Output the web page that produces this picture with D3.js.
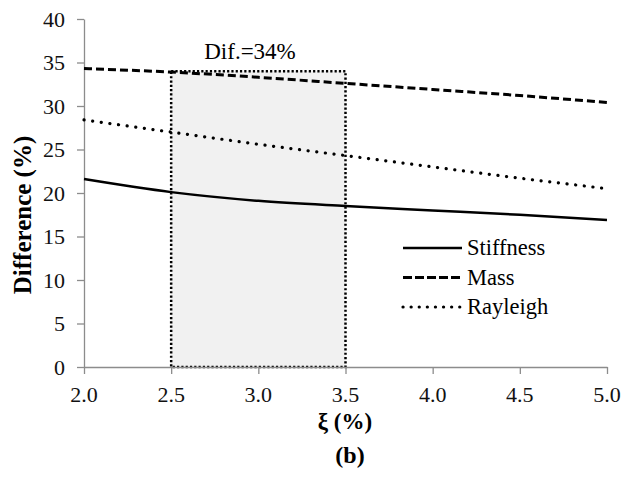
<!DOCTYPE html>
<html>
<head>
<meta charset="utf-8">
<script src="https://cdn.jsdelivr.net/npm/d3@7"></script>
<style>
body { margin: 0; background: #fff; }
</style>
</head>
<body>
<script>
// damping ratio (%)
var xi = [2.0, 2.5, 3.0, 3.5, 4.0, 4.5, 5.0];
var stiffness = [21.6, 20.1, 19.1, 18.5, 18.0, 17.5, 16.9];
var mass = [34.3, 33.9, 33.3, 32.6, 31.9, 31.2, 30.4];
var rayleigh = [28.4, 27.0, 25.6, 24.3, 23.0, 21.7, 20.5];
var xTicks = [2.0, 2.5, 3.0, 3.5, 4.0, 4.5, 5.0];
var yTicks = [0, 5, 10, 15, 20, 25, 30, 35, 40];
var band = [2.5, 3.5, 34]; // x from, x to, height
var bandLabel = "Dif.=34%";

var serif = "serif";
var serifBold = "Times New Roman";

var svg = d3.select("body").append("svg")
	.attr("width", 635)
	.attr("height", 479);

var x = d3.scaleLinear().domain([2, 5]).range([84, 607]);
var y = d3.scaleLinear().domain([0, 40]).range([367, 19]);

function label(g, txt, px, py, size, bold) {
	var t = g.append("text")
		.style("font-family", bold ? serifBold : serif)
		.attr("font-size", size)
		.attr("x", px)
		.attr("y", py)
		.text(txt);
	if (bold) t.attr("font-weight", "bold");
	return t;
}

// shaded band
svg.append("rect")
	.attr("x", x(band[0]))
	.attr("y", y(band[2]))
	.attr("width", x(band[1]) - x(band[0]))
	.attr("height", y(0) - y(band[2]))
	.attr("fill", "#f1f1f1")
	.attr("stroke", "#000")
	.attr("stroke-width", 2.5)
	.attr("stroke-dasharray", "2.2,2.1");

label(svg, bandLabel, 250, 59, 23, false).attr("text-anchor", "middle");

// axes (ticks from d3, labels drawn as plain text)
var xAxis = svg.append("g")
	.attr("transform", "translate(0," + y(0) + ")")
	.call(d3.axisBottom(x).tickValues(xTicks).tickFormat("").tickSize(7).tickSizeOuter(0));
var yAxis = svg.append("g")
	.attr("transform", "translate(" + x(2) + ",0)")
	.call(d3.axisLeft(y).tickValues(yTicks).tickFormat("").tickSize(7).tickSizeOuter(0));

[xAxis, yAxis].forEach(function (a) {
	a.select(".domain").attr("stroke", "#8c8c8c").attr("stroke-width", 1.3);
	a.selectAll(".tick line").attr("stroke", "#8c8c8c").attr("stroke-width", 1.3);
	a.selectAll(".tick text").remove();
});

xTicks.forEach(function (d) {
	label(svg, d3.format(".1f")(d), x(d), 402, 22, false).attr("text-anchor", "middle").attr("fill", "#111");
});
yTicks.forEach(function (d) {
	label(svg, d, 65, y(d) + 7.5, 22, false).attr("text-anchor", "end").attr("fill", "#111");
});

// lines
var line = function (vals) {
	return d3.line()
		.x(function (d, i) { return x(xi[i]); })
		.y(function (d) { return y(d); })
		.curve(d3.curveMonotoneX)(vals);
};

var series = [
	{ name: "Stiffness", vals: stiffness, dash: null, width: 2.5, cap: "butt" },
	{ name: "Mass", vals: mass, dash: "8,4", width: 3, cap: "butt" },
	{ name: "Rayleigh", vals: rayleigh, dash: "0.1,8.6", width: 3.2, cap: "round" }
];

series.forEach(function (s) {
	svg.append("path")
		.attr("d", line(s.vals))
		.attr("fill", "none")
		.attr("stroke", "#000")
		.attr("stroke-width", s.width)
		.attr("stroke-linecap", s.cap)
		.attr("stroke-dasharray", s.dash);
});

// legend
var leg = svg.append("g");
series.forEach(function (s, i) {
	var ly = 248 + i * 29.5;
	leg.append("line")
		.attr("x1", 403).attr("x2", 462)
		.attr("y1", ly).attr("y2", ly)
		.attr("stroke", "#000")
		.attr("stroke-width", s.width)
		.attr("stroke-linecap", s.cap)
		.attr("stroke-dasharray", s.name == "Mass" ? "9,3" : s.name == "Rayleigh" ? "0.1,8" : null);
	label(leg, s.name, 467, ly + 7, 22.5, false);
});

// axis titles
label(svg, "Difference (%)", 0, 0, 25, true)
	.attr("transform", "translate(31,215) rotate(-90)")
	.attr("text-anchor", "middle");

label(svg, "ξ (%)", 345, 429, 23, true).attr("text-anchor", "middle");
label(svg, "(b)", 350, 463, 24, true).attr("text-anchor", "middle");
</script>
</body>
</html>
